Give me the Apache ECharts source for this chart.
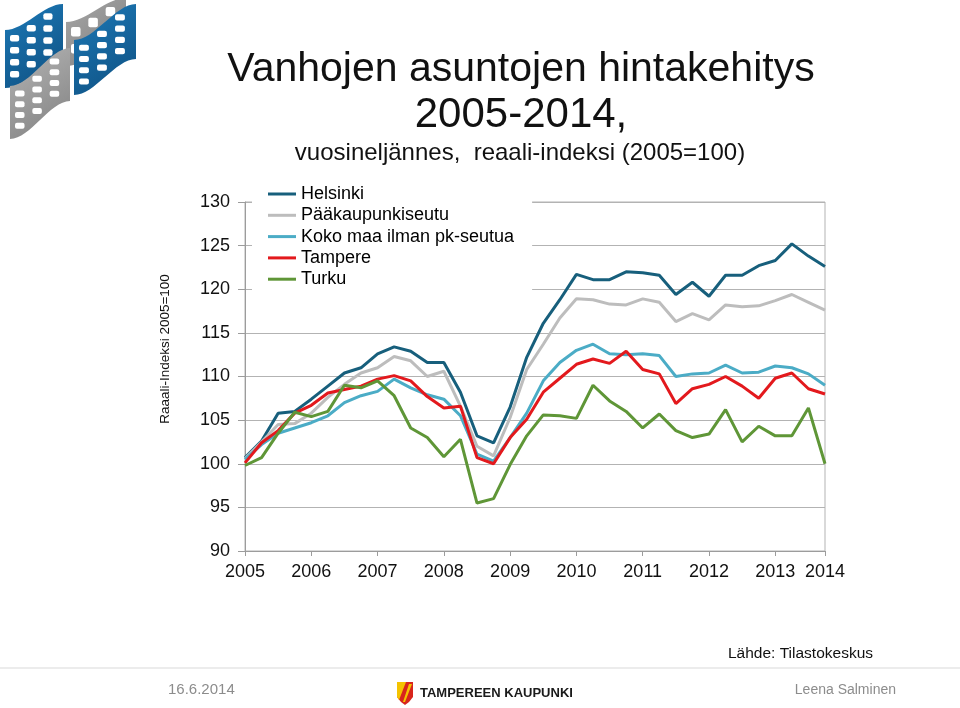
<!DOCTYPE html>
<html>
<head>
<meta charset="utf-8">
<script src="https://cdn.jsdelivr.net/npm/echarts@6/dist/echarts.min.js"></script>
<style>
html,body{margin:0;padding:0;background:#fff;}
#chart{width:960px;height:708px;}
</style>
</head>
<body>
<div id="chart"></div>
<script>
// ---- data (quarterly, real price index 2005=100) ----
const categories = ['2005Q1','2005Q2','2005Q3','2005Q4','2006Q1','2006Q2','2006Q3','2006Q4',
  '2007Q1','2007Q2','2007Q3','2007Q4','2008Q1','2008Q2','2008Q3','2008Q4',
  '2009Q1','2009Q2','2009Q3','2009Q4','2010Q1','2010Q2','2010Q3','2010Q4',
  '2011Q1','2011Q2','2011Q3','2011Q4','2012Q1','2012Q2','2012Q3','2012Q4',
  '2013Q1','2013Q2','2013Q3','2013Q4'];
const tickLabels = ['2005','2006','2007','2008','2009','2010','2011','2012','2013','2014'];
const seriesNames = ['Helsinki','Pääkaupunkiseutu','Koko maa ilman pk-seutua','Tampere','Turku'];

const helsinki = [100.7, 102.6, 105.8, 106.0, 107.4, 108.9, 110.4, 111.0, 112.6, 113.4,
  112.9, 111.6, 111.6, 108.2, 103.2, 102.4, 106.5, 112.2, 116.1, 118.8,
  121.7, 121.1, 121.1, 122.0, 121.9, 121.6, 119.4, 120.8, 119.2, 121.6,
  121.6, 122.7, 123.3, 125.2, 123.8, 122.6];
const paakaupunkiseutu = [100.6, 102.5, 104.5, 104.6, 105.8, 107.6, 109.1, 110.4, 111.0, 112.3,
  111.8, 110.0, 110.6, 106.6, 102.0, 100.9, 105.3, 110.8, 113.7, 116.7,
  118.9, 118.8, 118.3, 118.2, 118.9, 118.5, 116.3, 117.2, 116.5, 118.2,
  118.0, 118.1, 118.7, 119.4, 118.5, 117.6];
const kokoMaa = [100.5, 102.2, 103.5, 104.1, 104.7, 105.5, 107.0, 107.8, 108.3, 109.7,
  108.7, 107.9, 107.4, 105.5, 101.1, 100.3, 103.0, 105.8, 109.5, 111.6,
  113.0, 113.7, 112.6, 112.5, 112.6, 112.4, 110.0, 110.3, 110.4, 111.3,
  110.4, 110.5, 111.2, 111.0, 110.3, 109.0];
const tampere = [100.1, 102.4, 103.8, 105.8, 106.7, 108.1, 108.5, 108.9, 109.7, 110.1,
  109.5, 107.7, 106.4, 106.6, 100.7, 100.0, 103.0, 105.1, 108.2, 109.8,
  111.4, 112.0, 111.5, 112.9, 110.8, 110.3, 106.9, 108.6, 109.1, 110.0,
  108.9, 107.5, 109.8, 110.4, 108.6, 108.0];
const turku = [99.8, 100.7, 103.5, 105.9, 105.4, 106.0, 109.0, 108.7, 109.5, 107.8,
  104.1, 103.0, 100.8, 102.8, 95.5, 96.0, 99.9, 103.2, 105.6, 105.5,
  105.2, 109.0, 107.2, 106.0, 104.1, 105.7, 103.8, 103.0, 103.4, 106.2,
  102.5, 104.3, 103.2, 103.2, 106.4, 100.0];

const seriesData = [helsinki, paakaupunkiseutu, kokoMaa, tampere, turku];
const seriesColors = ['#175f7c', '#bdbdbd', '#4bacc6', '#e3191d', '#5f9637'];

// ---- decorative logo pieces (top-left) ----
function ease(t) { return t * t * (3 - 2 * t); }
function flagPiece(x0, y0, w, h, s, c1, c2, cols, rows) {
  const els = [];
  const pts = [];
  const N = 16;
  for (let k = 0; k <= N; k++) { const t = k / N; pts.push([x0 + w * t, y0 - s * ease(t)]); }
  for (let k = N; k >= 0; k--) { const t = k / N; pts.push([x0 + w * t, y0 - s * ease(t) + h]); }
  els.push({
    type: 'polygon', shape: { points: pts },
    style: { fill: new echarts.graphic.LinearGradient(0, 0, 1, 1, [{ offset: 0, color: c1 }, { offset: 1, color: c2 }]) }
  });
  const cw = (w - 8) / cols;
  const rh = (h - 10) / rows;
  for (let c = 0; c < cols; c++) {
    const t = (c + 0.35) / cols;
    const off = s * ease(t);
    for (let r = 0; r < rows; r++) {
      els.push({
        type: 'rect',
        shape: { x: x0 + 5 + c * cw, y: y0 - off + 6 + r * rh, width: cw * 0.55, height: rh * 0.55, r: 2 },
        style: { fill: '#ffffff' }
      });
    }
  }
  return els;
}

const logoEls = [].concat(
  flagPiece(66, 22, 60, 44, 24, '#a8a8a8', '#7d7d7d', 3, 2),
  flagPiece(5, 30, 58, 58, 26, '#1d7ab8', '#0e4f80', 3, 4),
  flagPiece(10, 86, 60, 53, 38, '#b5b5b5', '#808080', 3, 4),
  flagPiece(74, 40, 62, 55, 36, '#1d7ab8', '#0e4f80', 3, 4)
);

const chart = echarts.init(document.getElementById('chart'), null, { renderer: 'canvas' });

const yearTick = function (index) { return index % 4 === 0 || index === categories.length - 1; };

const option = {
  animation: false,
  backgroundColor: '#ffffff',
  textStyle: { fontFamily: 'Liberation Sans, Arial, sans-serif' },
  grid: {
    left: 245, right: 135, top: 202, bottom: 157,
    show: true, borderColor: '#b3b3b3', borderWidth: 1, backgroundColor: 'transparent'
  },
  legend: {
    orient: 'vertical',
    left: 252, top: 180,
    padding: [5, 18, 5, 16],
    backgroundColor: '#ffffff',
    icon: 'rect',
    itemWidth: 28, itemHeight: 3, itemGap: 3.3, itemTextGap: 3,
    textStyle: { fontSize: 18, lineHeight: 18, color: '#000', fontFamily: 'Liberation Sans, Arial, sans-serif' },
    data: seriesNames
  },
  xAxis: {
    type: 'category',
    data: categories,
    boundaryGap: false,
    axisLine: { lineStyle: { color: '#9c9c9c', width: 1 } },
    axisTick: { show: true, interval: yearTick, length: 5, lineStyle: { color: '#9c9c9c' } },
    axisLabel: {
      interval: yearTick,
      formatter: function (v) { return v === categories[categories.length - 1] ? tickLabels[tickLabels.length - 1] : v.slice(0, 4); },
      fontSize: 18, color: '#111', margin: 12
    },
    splitLine: { show: false }
  },
  yAxis: {
    type: 'value',
    min: 90, max: 130, interval: 5,
    axisLine: { show: true, lineStyle: { color: '#9c9c9c', width: 1 } },
    axisTick: { show: true, length: 7, lineStyle: { color: '#9c9c9c' } },
    axisLabel: { fontSize: 18, color: '#111', margin: 15 },
    splitLine: { show: true, lineStyle: { color: '#b3b3b3', width: 1 } }
  },
  series: seriesNames.map(function (name, i) {
    return {
      name: name,
      type: 'line',
      data: seriesData[i],
      symbol: 'none',
      showSymbol: false,
      color: seriesColors[i],
      lineStyle: { color: seriesColors[i], width: 3 },
      z: 3 + i
    };
  }),
  graphic: [
    { type: 'group', children: logoEls },
    { type: 'text', x: 521, y: 70, style: { text: 'Vanhojen asuntojen hintakehitys', fill: '#111', font: '41px "Liberation Sans", Arial, sans-serif', align: 'center', verticalAlign: 'middle' } },
    { type: 'text', x: 521, y: 115, style: { text: '2005-2014,', fill: '#111', font: '42px "Liberation Sans", Arial, sans-serif', align: 'center', verticalAlign: 'middle' } },
    { type: 'text', x: 520, y: 153, style: { text: 'vuosineljännes,  reaali-indeksi (2005=100)', fill: '#111', font: '24px "Liberation Sans", Arial, sans-serif', align: 'center', verticalAlign: 'middle' } },
    { type: 'text', x: 165, y: 349, rotation: Math.PI / 2, style: { text: 'Raaali-Indeksi 2005=100', fill: '#111', font: '13.5px "Liberation Sans", Arial, sans-serif', align: 'center', verticalAlign: 'middle' } },
    { type: 'text', x: 873, y: 654, style: { text: 'Lähde: Tilastokeskus', fill: '#111', font: '15.5px "Liberation Sans", Arial, sans-serif', align: 'right', verticalAlign: 'middle' } },
    { type: 'rect', shape: { x: 0, y: 667, width: 960, height: 2 }, style: { fill: '#ececec' } },
    { type: 'text', x: 168, y: 690, style: { text: '16.6.2014', fill: '#8c8c8c', font: '15px "Liberation Sans", Arial, sans-serif', align: 'left', verticalAlign: 'middle' } },
    { type: 'text', x: 896, y: 690, style: { text: 'Leena Salminen', fill: '#8c8c8c', font: '14px "Liberation Sans", Arial, sans-serif', align: 'right', verticalAlign: 'middle' } },
    { type: 'polygon', shape: { points: [[397, 682], [413, 682], [413, 697], [409, 702], [405, 705], [401, 702], [397, 697]] }, style: { fill: '#d8251c' } },
    { type: 'polygon', shape: { points: [[397, 682], [406, 682], [399, 700], [397, 697]] }, style: { fill: '#f4c300' } },
    { type: 'polygon', shape: { points: [[409, 684], [412, 684], [405, 702], [403, 702]] }, style: { fill: '#f4c300' } },
    { type: 'text', x: 420, y: 693, style: { text: 'TAMPEREEN KAUPUNKI', fill: '#1a1a1a', font: 'bold 13px "Liberation Sans", Arial, sans-serif', align: 'left', verticalAlign: 'middle' } }
  ]
};

chart.setOption(option);
</script>
</body>
</html>
